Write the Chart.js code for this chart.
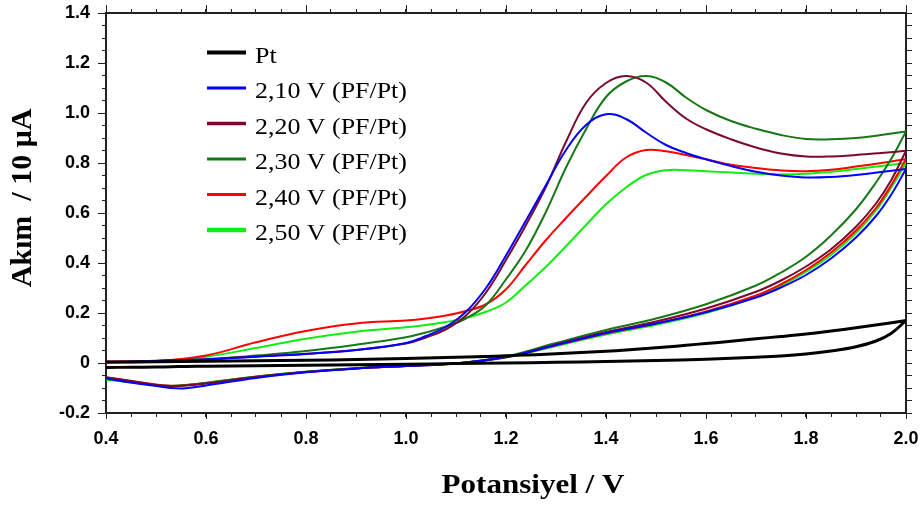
<!DOCTYPE html>
<html>
<head>
<meta charset="utf-8">
<script src="https://cdn.jsdelivr.net/npm/chart.js@4.4.0/dist/chart.umd.min.js"></script>
<style>
  html, body { margin: 0; padding: 0; background: #ffffff; }
  canvas { display: block; }
</style>
</head>
<body>
<canvas id="c" width="920" height="508"></canvas>
<script>
// ---------------- DATA ----------------
const seriesLabels = ['Pt', '2,10 V (PF/Pt)', '2,20 V (PF/Pt)', '2,30 V (PF/Pt)', '2,40 V (PF/Pt)', '2,50 V (PF/Pt)'];

// potential grid, lower branch (0.4 -> 2.0 V)
const lowerV = [0.40, 0.45, 0.50, 0.53, 0.56, 0.60, 0.70, 0.80, 0.90, 1.00, 1.10, 1.20, 1.30, 1.40, 1.50, 1.60, 1.70, 1.75, 1.80, 1.85, 1.90, 1.94, 1.97, 2.00];
// potential grid, upper branch (2.0 -> 0.4 V)
const upperV = [2.00, 1.95, 1.90, 1.85, 1.80, 1.75, 1.70, 1.65, 1.60, 1.56, 1.52, 1.48, 1.44, 1.40, 1.36, 1.32, 1.28, 1.24, 1.20, 1.16, 1.12, 1.08, 1.04, 1.00, 0.90, 0.80, 0.70, 0.60, 0.50, 0.40];

// current (/10 µA), lower branches
const ptLower    = [-0.018, -0.017, -0.016, -0.015, -0.014, -0.013, -0.011, -0.009, -0.007, -0.005, -0.002, 0.000, 0.003, 0.006, 0.010, 0.015, 0.023, 0.028, 0.036, 0.048, 0.065, 0.088, 0.118, 0.170];
const v210Lower  = [-0.062, -0.078, -0.092, -0.100, -0.101, -0.090, -0.060, -0.037, -0.022, -0.012, -0.002, 0.024, 0.072, 0.120, 0.158, 0.203, 0.262, 0.302, 0.352, 0.418, 0.502, 0.588, 0.672, 0.776];
const v220Lower  = [-0.057, -0.072, -0.088, -0.092, -0.090, -0.082, -0.056, -0.036, -0.022, -0.012, -0.002, 0.024, 0.074, 0.124, 0.166, 0.218, 0.285, 0.330, 0.386, 0.455, 0.545, 0.638, 0.730, 0.849];
const v230Lower  = [-0.060, -0.074, -0.089, -0.092, -0.089, -0.080, -0.055, -0.035, -0.021, -0.011, -0.001, 0.026, 0.080, 0.132, 0.178, 0.235, 0.310, 0.362, 0.425, 0.510, 0.615, 0.722, 0.815, 0.926];
const v240Lower  = [-0.058, -0.072, -0.086, -0.091, -0.088, -0.080, -0.055, -0.036, -0.022, -0.012, -0.002, 0.023, 0.071, 0.118, 0.158, 0.206, 0.270, 0.315, 0.372, 0.442, 0.530, 0.620, 0.710, 0.816];
const v250Lower  = [-0.067, -0.078, -0.089, -0.092, -0.088, -0.079, -0.054, -0.035, -0.021, -0.011, -0.001, 0.022, 0.068, 0.114, 0.153, 0.200, 0.264, 0.308, 0.365, 0.432, 0.520, 0.610, 0.700, 0.800];

// current (/10 µA), upper branches
const ptUpper    = [0.170, 0.155, 0.141, 0.128, 0.116, 0.106, 0.097, 0.087, 0.078, 0.071, 0.064, 0.058, 0.052, 0.047, 0.043, 0.039, 0.035, 0.032, 0.029, 0.026, 0.024, 0.022, 0.020, 0.018, 0.014, 0.011, 0.009, 0.007, 0.005, 0.004];
const v210Upper  = [0.776, 0.764, 0.752, 0.744, 0.742, 0.750, 0.765, 0.788, 0.815, 0.840, 0.872, 0.922, 0.976, 0.995, 0.952, 0.852, 0.712, 0.570, 0.430, 0.300, 0.205, 0.145, 0.108, 0.080, 0.052, 0.036, 0.025, 0.014, 0.008, 0.003];
const v220Upper  = [0.849, 0.840, 0.832, 0.826, 0.826, 0.838, 0.862, 0.895, 0.935, 0.978, 1.045, 1.122, 1.148, 1.120, 1.040, 0.885, 0.705, 0.552, 0.412, 0.282, 0.190, 0.135, 0.102, 0.078, 0.052, 0.037, 0.026, 0.015, 0.009, 0.004];
const v230Upper  = [0.926, 0.912, 0.900, 0.895, 0.896, 0.912, 0.937, 0.968, 1.012, 1.062, 1.122, 1.148, 1.126, 1.064, 0.935, 0.782, 0.605, 0.452, 0.335, 0.232, 0.178, 0.146, 0.122, 0.103, 0.073, 0.048, 0.030, 0.014, 0.007, 0.003];
const v240Upper  = [0.816, 0.800, 0.786, 0.773, 0.767, 0.770, 0.780, 0.793, 0.815, 0.832, 0.847, 0.852, 0.822, 0.748, 0.665, 0.580, 0.492, 0.394, 0.295, 0.235, 0.208, 0.190, 0.178, 0.170, 0.158, 0.128, 0.083, 0.030, 0.008, 0.006];
const v250Upper  = [0.800, 0.788, 0.776, 0.765, 0.757, 0.754, 0.757, 0.762, 0.767, 0.771, 0.771, 0.752, 0.702, 0.635, 0.552, 0.467, 0.385, 0.312, 0.242, 0.205, 0.180, 0.164, 0.152, 0.143, 0.125, 0.097, 0.060, 0.025, 0.006, 0.000];

const lowerSeries = [ptLower, v210Lower, v220Lower, v230Lower, v240Lower, v250Lower];
const upperSeries = [ptUpper, v210Upper, v220Upper, v230Upper, v240Upper, v250Upper];

// tick labels
const xMajorTicks = [0.4, 0.6, 0.8, 1.0, 1.2, 1.4, 1.6, 1.8, 2.0];
const xTickLabels = ['0.4', '0.6', '0.8', '1.0', '1.2', '1.4', '1.6', '1.8', '2.0'];
const yMajorTicks = [-0.2, 0, 0.2, 0.4, 0.6, 0.8, 1.0, 1.2, 1.4];
const yTickLabels = ['-0.2', '0', '0.2', '0.4', '0.6', '0.8', '1.0', '1.2', '1.4'];

const xTitle = 'Potansiyel / V';
const yTitle = 'Akım  / 10 μA';

// ---------------- STYLE ----------------
const colors = ['#000000', '#0000ff', '#7a0a2c', '#167816', '#ff0000', '#10ee10'];
const lineWidths = [3, 2, 2, 2, 2, 2];
const legendLineWidths = [4, 3, 3.5, 3, 3, 4.5];
const axisColor = '#222222';

function labelFor(v, majors, labels) {
  for (let i = 0; i < majors.length; i++) {
    if (Math.abs(v - majors[i]) < 1e-6) return labels[i];
  }
  return '';
}

const datasets = seriesLabels.map((lab, s) => ({
  label: lab,
  data: lowerV.map((v, i) => ({ x: v, y: lowerSeries[s][i] }))
        .concat(upperV.map((v, i) => ({ x: v, y: upperSeries[s][i] }))),
  borderColor: colors[s],
  backgroundColor: colors[s],
  borderWidth: lineWidths[s],
  showLine: true,
  pointRadius: 0,
  pointHoverRadius: 0,
  tension: 0.4,
  fill: false
}));

function fixBox(w, h) {
  return s => {
    if (w !== null) s.width = w;
    if (h !== null) s.height = h;
    s.paddingLeft = 0; s.paddingRight = 0; s.paddingTop = 0; s.paddingBottom = 0;
  };
}

// major tick marks (longer) on left/top/bottom axes
const majorTickPlugin = {
  id: 'majorTicks',
  afterDraw(chart) {
    const { ctx, chartArea: a, scales } = chart;
    ctx.save();
    ctx.strokeStyle = axisColor;
    ctx.lineWidth = 1;
    ctx.beginPath();
    yMajorTicks.forEach(v => {
      const y = Math.round(scales.y.getPixelForValue(v)) + 0.5;
      ctx.moveTo(a.left - 8, y); ctx.lineTo(a.left, y);
    });
    xMajorTicks.forEach(v => {
      const x = Math.round(scales.x2.getPixelForValue(v)) + 0.5;
      ctx.moveTo(x, a.top - 8); ctx.lineTo(x, a.top);
      const xb = Math.round(scales.x.getPixelForValue(v)) + 0.5;
      ctx.moveTo(xb, a.bottom); ctx.lineTo(xb, a.bottom + 6);
    });
    ctx.stroke();
    ctx.restore();
  }
};

// axis titles
const titlePlugin = {
  id: 'axisTitles',
  afterDraw(chart) {
    const ctx = chart.ctx;
    ctx.save();
    ctx.fillStyle = '#000';
    ctx.font = 'bold 27px "Liberation Serif", "Times New Roman", serif';
    ctx.textAlign = 'center';
    ctx.textBaseline = 'alphabetic';
    ctx.save();
    ctx.translate(533, 493);
    ctx.scale(1.15, 1);
    ctx.fillText(xTitle, 0, 0);
    ctx.restore();

    ctx.save();
    ctx.font = 'bold 30px "Liberation Serif", "Times New Roman", serif';
    ctx.translate(31, 198);
    ctx.rotate(-Math.PI / 2);
    ctx.fillText(yTitle, 0, 0);
    ctx.restore();
    ctx.restore();
  }
};

// legend drawn inside the plot area
const legendPlugin = {
  id: 'insideLegend',
  afterDraw(chart) {
    const ctx = chart.ctx;
    ctx.save();
    ctx.font = '24px "Liberation Serif", "Times New Roman", serif';
    ctx.textAlign = 'left';
    ctx.textBaseline = 'alphabetic';
    chart.data.datasets.forEach((ds, i) => {
      const y = 52.5 + i * 35.5;
      ctx.strokeStyle = ds.borderColor;
      ctx.lineWidth = legendLineWidths[i];
      ctx.beginPath();
      ctx.moveTo(207, y); ctx.lineTo(246, y);
      ctx.stroke();
      ctx.fillStyle = '#000';
      ctx.save();
      ctx.translate(255, y + 10);
      ctx.scale(1.08, 1);
      ctx.fillText(ds.label, 0, 0);
      ctx.restore();
    });
    ctx.restore();
  }
};

const tickFont = { family: '"Liberation Sans", Arial, sans-serif', size: 18, weight: 'bold' };

new Chart(document.getElementById('c'), {
  type: 'scatter',
  data: { datasets },
  options: {
    responsive: false,
    animation: false,
    devicePixelRatio: 1,
    layout: { padding: 0 },
    plugins: { legend: { display: false }, tooltip: { enabled: false } },
    scales: {
      x: {
        type: 'linear', position: 'bottom', min: 0.4, max: 2.0,
        ticks: {
          stepSize: 0.05, autoSkip: false, maxRotation: 0, padding: 11,
          color: '#000', font: tickFont,
          callback: v => labelFor(v, xMajorTicks, xTickLabels)
        },
        grid: { drawOnChartArea: false, drawTicks: true, tickLength: 4, color: axisColor, lineWidth: 1 },
        border: { display: true, color: axisColor, width: 2 },
        afterFit: fixBox(null, 95)
      },
      x2: {
        type: 'linear', position: 'top', min: 0.4, max: 2.0,
        ticks: { stepSize: 0.05, autoSkip: false, display: false },
        grid: { drawOnChartArea: false, drawTicks: true, tickLength: 4, color: axisColor, lineWidth: 1 },
        border: { display: true, color: axisColor, width: 2 },
        afterFit: fixBox(null, 13)
      },
      y: {
        type: 'linear', position: 'left', min: -0.2, max: 1.4,
        ticks: {
          stepSize: 0.05, autoSkip: false, padding: 12,
          color: '#000', font: tickFont,
          callback: v => labelFor(v, yMajorTicks, yTickLabels)
        },
        grid: { drawOnChartArea: false, drawTicks: true, tickLength: 4, color: axisColor, lineWidth: 1 },
        border: { display: true, color: axisColor, width: 2 },
        afterFit: fixBox(106, null)
      },
      y2: {
        type: 'linear', position: 'right', min: -0.2, max: 1.4,
        ticks: { stepSize: 0.05, autoSkip: false, display: false },
        grid: { drawOnChartArea: false, drawTicks: true, tickLength: 6, color: axisColor, lineWidth: 1 },
        border: { display: true, color: axisColor, width: 2 },
        afterFit: fixBox(14, null)
      }
    }
  },
  plugins: [majorTickPlugin, titlePlugin, legendPlugin]
});
</script>
</body>
</html>
